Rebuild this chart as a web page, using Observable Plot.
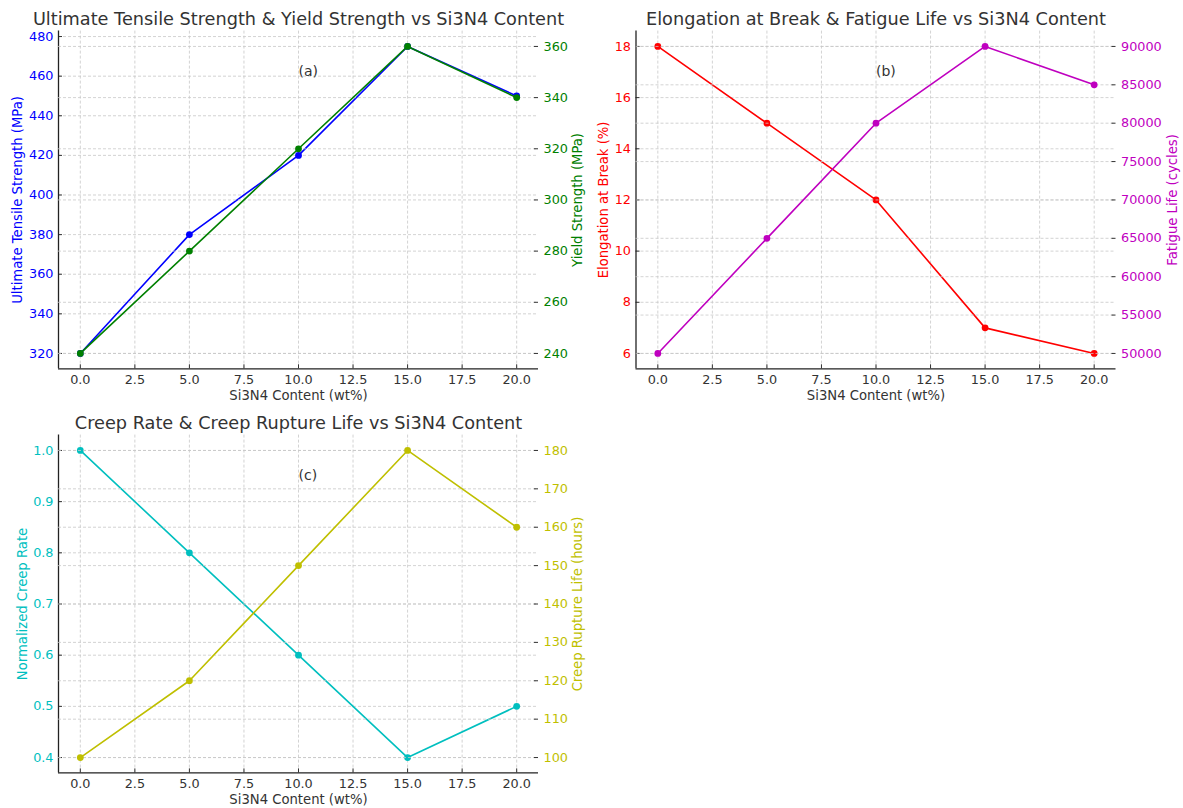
<!DOCTYPE html>
<html>
<head>
<meta charset="utf-8">
<script src="https://cdn.jsdelivr.net/npm/d3@7"></script>
<script src="https://cdn.jsdelivr.net/npm/@observablehq/plot@0.6"></script>
<style>
  html, body { margin: 0; padding: 0; background: white; }
  #chart { position: relative; width: 1183px; height: 808px; background: white; overflow: hidden; }
  #chart .layer { position: absolute; }
  #chart svg { display: block; }
</style>
</head>
<body>
<div id="chart"></div>
<script>
// ---------- data ----------
const content = [0, 5, 10, 15, 20];
const xTicks = [0, 2.5, 5, 7.5, 10, 12.5, 15, 17.5, 20];

const uts = [320, 380, 420, 475, 450];
const yieldStrength = [240, 280, 320, 360, 340];
const utsTicks = [320, 340, 360, 380, 400, 420, 440, 460, 480];
const yieldTicks = [240, 260, 280, 300, 320, 340, 360];

const elongation = [18, 15, 12, 7, 6];
const fatigue = [50000, 65000, 80000, 90000, 85000];
const elongTicks = [6, 8, 10, 12, 14, 16, 18];
const fatigueTicks = [50000, 55000, 60000, 65000, 70000, 75000, 80000, 85000, 90000];

const creep = [1.0, 0.8, 0.6, 0.4, 0.5];
const rupture = [100, 120, 150, 180, 160];
const creepTicks = [0.4, 0.5, 0.6, 0.7, 0.8, 0.9, 1.0];
const ruptureTicks = [100, 110, 120, 130, 140, 150, 160, 170, 180];

const titles = [
  "Ultimate Tensile Strength & Yield Strength vs Si3N4 Content",
  "Elongation at Break & Fatigue Life vs Si3N4 Content",
  "Creep Rate & Creep Rupture Life vs Si3N4 Content"
];
const tags = ["(a)", "(b)", "(c)"];
const xLabel = "Si3N4 Content (wt%)";

// ---------- helpers ----------
const FONT = "DejaVu Sans";
const TXT = "#333333";
const TICKFS = 12.8;
const LABELFS = 13.2;
const GRID = {stroke: "#c8c8c8", strokeWidth: 0.8, strokeDasharray: "3,2", strokeOpacity: 1};

function padDomain(vals) {
  const [a, b] = d3.extent(vals);
  const m = (b - a) * 0.05;
  return [a - m, b + m];
}
const xDomain = padDomain(content);

function panel(cfg) {
  const {left, top, width, height, mL, mR, mT, mB} = cfg;
  const fw = width - mL - mR, fh = height - mT - mB;
  const lData = content.map((c, i) => ({x: c, y: cfg.lVals[i]}));
  const rData = content.map((c, i) => ({x: c, y: cfg.rVals[i]}));
  const lDomain = padDomain(cfg.lVals);
  const rDomain = padDomain(cfg.rVals);
  const common = {
    width, height, marginLeft: mL, marginRight: mR, marginTop: mT, marginBottom: mB,
    style: {fontFamily: FONT, fontSize: "12.5px", background: "transparent", overflow: "visible"}
  };

  const base = Plot.plot({
    ...common,
    x: {domain: xDomain, axis: null},
    y: {domain: lDomain, axis: null},
    marks: [
      Plot.gridX(xTicks, GRID),
      Plot.gridY(cfg.lTicks, GRID),
      Plot.line(lData, {x: "x", y: "y", stroke: cfg.lColor, strokeWidth: 1.6}),
      Plot.dot(lData, {x: "x", y: "y", fill: cfg.lColor, r: 3.4}),
      Plot.tickX(xTicks, {x: d => d, insetTop: fh - 4, stroke: TXT, strokeWidth: 1}),
      Plot.tickY(cfg.lTicks, {y: d => d, insetRight: fw - 4, stroke: TXT, strokeWidth: 1}),
      Plot.ruleX([xDomain[0]], {stroke: "#222", strokeWidth: 1.3}),
      Plot.ruleY([lDomain[0]], {stroke: "#222", strokeWidth: 1.3}),
      Plot.axisX(xTicks, {anchor: "bottom", tickSize: 0, tickPadding: 6, fill: TXT, fontSize: TICKFS,
        tickFormat: d => d.toFixed(1), label: null}),
      Plot.axisY(cfg.lTicks, {anchor: "left", tickSize: 0, tickPadding: 5, fill: cfg.lColor, fontSize: TICKFS,
        tickFormat: cfg.lFormat, label: null}),
      Plot.text([cfg.title], {text: d => d, frameAnchor: "top", lineAnchor: "middle", textAnchor: "middle",
        dy: -12, fontSize: 17.7, fill: TXT}),
      Plot.text([cfg.tag], {text: d => d, frameAnchor: "top", lineAnchor: "middle", textAnchor: "start",
        dy: 40, fontSize: 14, fill: TXT}),
      Plot.text([xLabel], {text: d => d, frameAnchor: "bottom", lineAnchor: "middle", textAnchor: "middle",
        dy: 27, fontSize: LABELFS, fill: TXT}),
      Plot.text([cfg.lLabel], {text: d => d, frameAnchor: "left", lineAnchor: "middle", textAnchor: "middle",
        dx: cfg.lLabelDx, rotate: -90, fontSize: LABELFS, fill: cfg.lColor})
    ]
  });

  const over = Plot.plot({
    ...common,
    x: {domain: xDomain, axis: null},
    y: {domain: rDomain, axis: null},
    marks: [
      Plot.gridY(cfg.rTicks, GRID),
      Plot.line(rData, {x: "x", y: "y", stroke: cfg.rColor, strokeWidth: 1.6}),
      Plot.dot(rData, {x: "x", y: "y", fill: cfg.rColor, r: 3.4}),
      Plot.tickY(cfg.rTicks, {y: d => d, insetLeft: fw - 4, stroke: TXT, strokeWidth: 1}),
      Plot.axisY(cfg.rTicks, {anchor: "right", tickSize: 0, tickPadding: 5, fill: cfg.rColor, fontSize: TICKFS,
        tickFormat: cfg.rFormat, label: null}),
      Plot.text([cfg.rLabel], {text: d => d, frameAnchor: "right", lineAnchor: "middle", textAnchor: "middle",
        dx: cfg.rLabelDx, rotate: -90, fontSize: LABELFS, fill: cfg.rColor})
    ]
  });

  for (const svg of [base, over]) {
    const wrap = document.createElement("div");
    wrap.className = "layer";
    wrap.style.left = left + "px";
    wrap.style.top = top + "px";
    wrap.appendChild(svg);
    document.getElementById("chart").appendChild(wrap);
  }
}

const intFmt = d => String(d);

panel({
  left: 0, top: 0, width: 590, height: 404, mL: 58, mR: 52, mT: 30.6, mB: 35.7,
  title: titles[0], tag: tags[0],
  lVals: uts, lTicks: utsTicks, lColor: "#0000ff", lLabel: "Ultimate Tensile Strength (MPa)", lLabelDx: -41, lFormat: intFmt,
  rVals: yieldStrength, rTicks: yieldTicks, rColor: "#008000", rLabel: "Yield Strength (MPa)", rLabelDx: 39, rFormat: intFmt
});

panel({
  left: 590, top: 0, width: 593, height: 404, mL: 45.5, mR: 67.5, mT: 30.6, mB: 35.7,
  title: titles[1], tag: tags[1],
  lVals: elongation, lTicks: elongTicks, lColor: "#ff0000", lLabel: "Elongation at Break (%)", lLabelDx: -32.5, lFormat: intFmt,
  rVals: fatigue, rTicks: fatigueTicks, rColor: "#bf00bf", rLabel: "Fatigue Life (cycles)", rLabelDx: 56.5, rFormat: intFmt
});

panel({
  left: 0, top: 404, width: 590, height: 404, mL: 58, mR: 52, mT: 30.6, mB: 35.6,
  title: titles[2], tag: tags[2],
  lVals: creep, lTicks: creepTicks, lColor: "#00bfbf", lLabel: "Normalized Creep Rate", lLabelDx: -36, lFormat: d => d.toFixed(1),
  rVals: rupture, rTicks: ruptureTicks, rColor: "#bfbf00", rLabel: "Creep Rupture Life (hours)", rLabelDx: 39, rFormat: intFmt
});
</script>
</body>
</html>
